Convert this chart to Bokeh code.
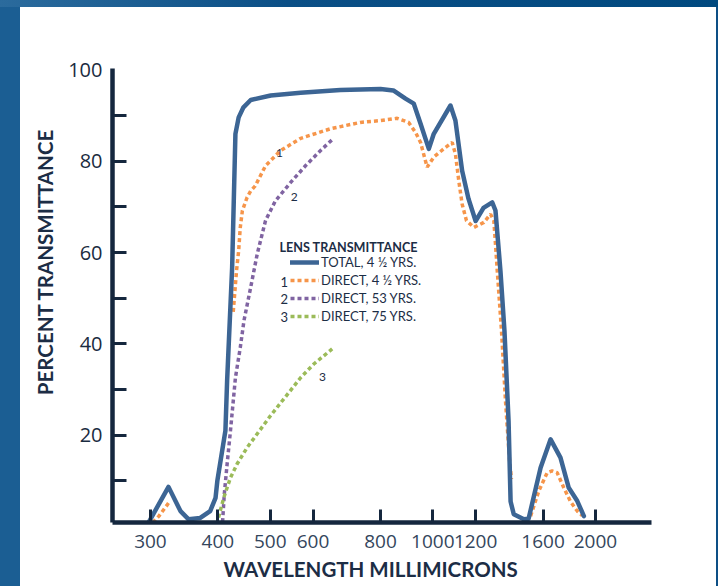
import numpy as np
from bokeh.plotting import figure
from bokeh.models import (Range1d, FixedTicker, BasicTickFormatter, Legend, LegendItem,
                          Label, Title, Div)
from bokeh.layouts import row, column
from bokeh.core.properties import value
from bokeh.embed import file_html
from bokeh.resources import INLINE

nan = float("nan")

# ---- data (wavelength in millimicrons, percent transmittance) ----
total_w = [298, 324, 341, 353, 371, 387, 396, 399, 413, 416, 425, 431, 437, 446, 460, 501, 569,
           674, 800, 845, 890, 922, 949, 983, 1004, 1078, 1101, 1133, 1164, 1200, 1241,
           1288, 1306, 1334, 1357, 1381, 1393, 1412, 1474, 1504, 1583, 1652, 1723, 1785,
           1851, 1904]
total_t = [1, 8.7, 3.4, 1.6, 1.9, 3.4, 6.3, 10, 21, 31.9, 56.7, 86, 89.6, 91.8, 93.4, 94.4, 95.0,
           95.6, 95.8, 95.5, 93.7, 92.6, 88.2, 82.7, 86, 92.2, 88.9, 77.9, 71.8, 66.9, 69.8,
           71.0, 69.2, 56, 42.9, 23.1, 5.5, 2.7, 1.6, 1.7, 12.9, 19.1, 15.1, 8.5, 5.6, 2.3]

direct1_w = [303, 311, 322, 326, nan,
             427, 433, 437, 440, 444, 453, 460, 469, 490, 522, 569, 646, 734, 800, 859, 902,
             929, 949, 976, 1004, 1055, 1086, 1101, 1117, 1133, 1154, 1191, 1243, 1279, 1297,
             1306, 1316, 1340, 1363, 1387, 1398, nan,
             1517, 1571, 1628, 1663, 1699, 1748, 1798, 1851, 1891]
direct1_t = [0.9, 2.3, 4.7, 5.6, nan,
             47, 56, 60.4, 65.5, 69.2, 72.1, 73.5, 74.6, 79, 82.3, 85, 87.1, 88.5, 88.9, 89.4,
             88.5, 86.3, 84.1, 78.7, 80.9, 83, 84.1, 81.6, 75.7, 70.6, 67, 65.5, 66.6, 68.4,
             67, 61.9, 56, 42.9, 27.5, 14.4, 10.4, nan,
             2.3, 7.8, 11.8, 12.2, 11.8, 8.5, 5.5, 3.4, 2.4]

direct53_w = [408, 411, 416, 422, 431, 440, 447, 460, 473, 490, 511, 545, 581, 619, 655]
direct53_t = [1, 7.1, 13.7, 21, 32.6, 39.2, 45.1, 52.4, 59.7, 67, 71.3, 75.3, 79, 82.3, 85]

direct75_w = [401, 410, 422, 434, 453, 500, 569, 602, 651]
direct75_t = [2, 6.3, 10.7, 13.7, 17.3, 24.2, 32.6, 35.6, 38.9]

curve_label_w = [520, 554, 625]
curve_label_t = [81.9, 72.2, 32.8]
curve_label_text = ["1", "2", "3"]

x_ticks = [300, 400, 500, 600, 800, 1000, 1200, 1600, 2000]
y_label_ticks = [20, 40, 60, 80, 100]
y_tick_marks = [10, 20, 30, 40, 50, 60, 70, 80, 90]

x_title = "WAVELENGTH MILLIMICRONS"
y_title = "PERCENT TRANSMITTANCE"
legend_title = "LENS TRANSMITTANCE"
legend_labels = ["TOTAL, 4 \u00bd YRS.", "DIRECT, 4 \u00bd YRS.", "DIRECT, 53 YRS.", "DIRECT, 75 YRS."]
legend_numbers = ["1", "2", "3"]

AXIS = "#15273e"
BLUE = "#3c6594"
ORANGE = "#f6954a"
PURPLE = "#8064a2"
GREEN = "#9bbb59"
TEXT = "#1c2d45"

p = figure(width=696, height=579, x_axis_type="log",
           x_range=Range1d(255.2, 2540), y_range=Range1d(0.9, 100.3),
           output_backend="svg", toolbar_location=None, margin=0,
           min_border_left=92, min_border_right=65, min_border_top=61, min_border_bottom=64)
p.background_fill_color = "white"
p.border_fill_color = "white"
p.outline_line_color = None
p.xgrid.visible = False
p.ygrid.visible = False

r1 = p.line(direct1_w, direct1_t, line_color=ORANGE, line_width=3.5, line_dash="4 3")
r2 = p.line(direct53_w, direct53_t, line_color=PURPLE, line_width=3.5, line_dash="4 3")
r3 = p.line(direct75_w, direct75_t, line_color=GREEN, line_width=3.5, line_dash="4 3")
r0 = p.line(total_w, total_t, line_color=BLUE, line_width=4.5, line_join="round", line_cap="round")

p.text(x=curve_label_w, y=curve_label_t, text=curve_label_text, text_font=value("Lato"),
       text_font_size="12px", text_color=TEXT, text_align="center", text_baseline="middle")

# axes
for ax in (p.xaxis[0], p.yaxis[0]):
    ax.axis_line_color = AXIS
    ax.axis_line_width = 4.5
    ax.major_tick_line_color = AXIS
    ax.major_tick_line_width = 3
    ax.minor_tick_line_color = AXIS
    ax.minor_tick_line_width = 3
    ax.major_label_text_font = "Open Sans"

xa = p.xaxis[0]
xa.ticker = FixedTicker(ticks=x_ticks)
xa.formatter = BasicTickFormatter(use_scientific=False)
xa.major_tick_in = 13
xa.major_tick_out = 0
xa.major_label_text_font_size = "19px"
xa.major_label_text_color = "#34465c"
xa.major_label_standoff = 12

ya = p.yaxis[0]
ya.ticker = FixedTicker(ticks=y_label_ticks, minor_ticks=y_tick_marks)
ya.major_tick_in = 0
ya.major_tick_out = 0
ya.minor_tick_in = 14
ya.minor_tick_out = 0
ya.major_label_text_font_size = "20px"
ya.major_label_text_color = "#1a2b40"
ya.major_label_standoff = 10

p.add_layout(Title(text=y_title, align="right", offset=60, text_font="Lato",
                   text_font_size="20.5px", text_font_style="bold", text_color=TEXT,
                   standoff=18), "left")
p.add_layout(Title(text=x_title, align="left", offset=111, text_font="Lato",
                   text_font_size="20.5px", text_font_style="bold", text_color=TEXT,
                   standoff=8), "below")

# legend
legend = Legend(items=[LegendItem(label=legend_labels[0], renderers=[r0]),
                       LegendItem(label=legend_labels[1], renderers=[r1]),
                       LegendItem(label=legend_labels[2], renderers=[r2]),
                       LegendItem(label=legend_labels[3], renderers=[r3])],
                location=(178, 198), padding=0, margin=0, spacing=2,
                glyph_width=29, glyph_height=14, label_height=14, label_standoff=2,
                border_line_color=None, background_fill_alpha=0,
                label_text_font="Lato", label_text_font_size="13px", label_text_color=TEXT)
p.add_layout(legend)

p.add_layout(Label(x=167, y=275.5, x_units="screen", y_units="screen", text=legend_title,
                   text_font="Lato", text_font_size="12.6px", text_font_style="bold",
                   text_color=TEXT, text_baseline="middle", text_align="left"))
for i, num in enumerate(legend_numbers):
    p.add_layout(Label(x=168, y=240.5 - 17.3 * i, x_units="screen", y_units="screen", text=num,
                       text_font="Lato", text_font_size="13px", text_color=TEXT,
                       text_baseline="middle", text_align="left"))

# slide frame around the chart
top_band = Div(width=718, height=7, margin=0,
               styles={"background": "linear-gradient(90deg, #2b6b9d, #0b4f86 40%, #00497f)"})
left_band = Div(width=20, height=579, margin=0, styles={"background-color": "#1b5e93"})
right_band = Div(width=2, height=579, margin=0, styles={"background-color": "#0d4f85"})
layout = column(top_band, row(left_band, p, right_band, margin=0, spacing=0),
                margin=0, spacing=0)

open("out.html", "w").write(file_html(layout, INLINE))
